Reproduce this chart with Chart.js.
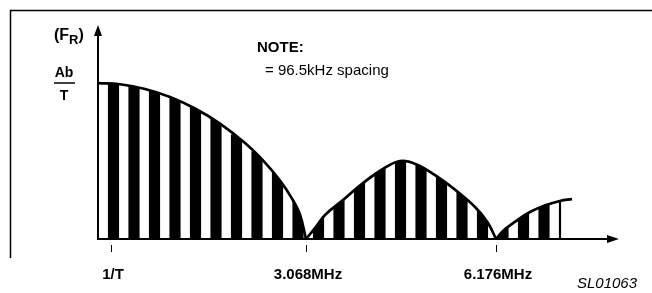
<!DOCTYPE html>
<html lang="en">
<head>
<meta charset="utf-8">
<title>Spectre FR</title>
<script src="https://cdn.jsdelivr.net/npm/chart.js@4.4.1/dist/chart.umd.min.js"></script>
<style>
    html, body { margin: 0; padding: 0; background: #fff; }
    .wrap { position: relative; width: 652px; height: 293px; }
</style>
</head>
<body>
<div class="wrap"><canvas id="spectre"></canvas></div>
<script>
    // axe horizontal en unites arbitraires (0 = axe vertical)
    const tickValues = [13, 208, 398];
    const tickLabels = ['1/T', '3.068MHz', '6.176MHz'];

    // enveloppe, un tableau par lobe : [x, niveau] (100 = Ab/T)
    const lobe1 = [[0, 100], [22, 99.2], [47, 96.2], [72, 91.1], [97, 83.7], [122, 74], [147, 61.5], [167, 49], [182, 37.5], [194, 25.9], [202, 15.6], [208, 0]];
    const lobe2 = [[208, 0], [217, 7], [227, 15.4], [245, 25], [265, 35.9], [285, 44.9], [302, 50], [318, 48], [340, 39.7], [360, 30.1], [378, 19.9], [390, 10.3], [398, 0]];
    const lobe3 = [[398, 0], [406, 5.8], [418, 11.5], [432, 17.3], [448, 21.8], [462, 24.4], [474, 25.6]];

    // raies espacees de 96.5kHz
    const lineX = [15.5, 36, 56.5, 77, 97.5, 118, 138.5, 159, 179.5, 200, 220.5, 241, 261.5, 282, 302.5, 323, 343.5, 364, 384.5, 405, 425.5, 446];
    const lineLevel = [101, 99, 96, 92, 86, 79, 67, 56, 44, 25, 16, 27, 38, 47, 51, 50, 42, 32, 21, 9, 17, 24];
    const edgeX = [462];
    const edgeLevel = [25];

    const FONT = '"Liberation Sans", Arial, Helvetica, sans-serif';

    function pts(lobe) {
        return lobe.map(p => ({x: p[0], y: p[1]}));
    }

    // les raies sont coupees par l'enveloppe
    const clipRaies = {
        id: 'clipRaies',
        beforeDatasetDraw(chart, args) {
            const ds = chart.data.datasets[args.index];
            if (!ds.raie) return;
            const ctx = chart.ctx;
            const base = chart.scales.y.getPixelForValue(0) + 1;
            ctx.save();
            ctx.beginPath();
            chart.data.datasets.forEach((d, i) => {
                if (!d.enveloppe) return;
                const line = chart.getDatasetMeta(i).dataset;
                const p = line.points;
                line.updateControlPoints(chart.chartArea, 'x');
                line.path(ctx);
                ctx.lineTo(p[p.length - 1].x, base);
                ctx.lineTo(p[0].x, base);
                ctx.closePath();
            });
            ctx.clip();
        },
        afterDatasetDraw(chart, args) {
            const ds = chart.data.datasets[args.index];
            if (ds.raie) chart.ctx.restore();
        }
    };

    const decor = {
        id: 'decor',
        afterDraw(chart) {
            const ctx = chart.ctx;
            const a = chart.chartArea;
            ctx.save();
            ctx.strokeStyle = '#000';
            ctx.fillStyle = '#000';

            // cadre
            ctx.lineWidth = 1.5;
            ctx.beginPath();
            ctx.moveTo(10.5, 258);
            ctx.lineTo(10.5, 10.5);
            ctx.lineTo(652, 10.5);
            ctx.stroke();

            // fleches
            ctx.beginPath();
            ctx.moveTo(a.left, a.top - 5);
            ctx.lineTo(a.left - 4, a.top + 6);
            ctx.lineTo(a.left + 4, a.top + 6);
            ctx.closePath();
            ctx.fill();
            ctx.beginPath();
            ctx.moveTo(a.right + 5, a.bottom);
            ctx.lineTo(a.right - 7, a.bottom - 4);
            ctx.lineTo(a.right - 7, a.bottom + 4);
            ctx.closePath();
            ctx.fill();

            // (FR)
            ctx.textBaseline = 'alphabetic';
            ctx.textAlign = 'left';
            ctx.font = 'bold 16px ' + FONT;
            let x = 54;
            ctx.fillText('(F', x, 40);
            x += ctx.measureText('(F').width;
            ctx.font = 'bold 13px ' + FONT;
            ctx.fillText('R', x, 44);
            x += ctx.measureText('R').width;
            ctx.font = 'bold 16px ' + FONT;
            ctx.fillText(')', x, 40);

            // Ab / T
            ctx.textAlign = 'center';
            ctx.font = 'bold 14px ' + FONT;
            ctx.fillText('Ab', 64, 77);
            ctx.fillText('T', 64, 100);
            ctx.lineWidth = 1.5;
            ctx.beginPath();
            ctx.moveTo(54, 83);
            ctx.lineTo(75, 83);
            ctx.stroke();

            // note
            ctx.textAlign = 'left';
            ctx.font = 'bold 15px ' + FONT;
            ctx.fillText('NOTE:', 257, 52);
            ctx.font = '15px ' + FONT;
            ctx.fillText('= 96.5kHz spacing', 265, 75);

            ctx.font = 'italic 15px ' + FONT;
            ctx.fillText('SL01063', 577, 288);
            ctx.restore();
        }
    };

    const courbe = {type: 'line', enveloppe: true, order: 1, borderColor: '#000', borderWidth: 2.7, pointRadius: 0, fill: false, tension: 0.4};

    new Chart(document.getElementById('spectre'), {
        type: 'line',
        data: {
            datasets: [
                Object.assign({data: pts(lobe1)}, courbe),
                Object.assign({data: pts(lobe2)}, courbe),
                Object.assign({data: pts(lobe3)}, courbe),
                {type: 'bar', data: lineX.map((v, i) => ({x: v, y: lineLevel[i]})), raie: true, order: 2, grouped: false, backgroundColor: '#000', borderWidth: 0, barThickness: 10.5},
                {type: 'bar', data: edgeX.map((v, i) => ({x: v, y: edgeLevel[i]})), raie: true, order: 2, grouped: false, backgroundColor: '#000', borderWidth: 0, barThickness: 1.5}
            ]
        },
        options: {
            responsive: true,
            maintainAspectRatio: false,
            animation: false,
            layout: {padding: {left: 98, top: 30, right: 38, bottom: 0}},
            plugins: {legend: {display: false}, tooltip: {enabled: false}},
            scales: {
                x: {
                    type: 'linear',
                    min: 0,
                    max: 516,
                    offset: false,
                    afterFit: s => { s.height = 54; },
                    afterBuildTicks: s => { s.ticks = tickValues.map(v => ({value: v})); },
                    grid: {display: true, offset: false, drawOnChartArea: false, drawTicks: true, tickLength: 13, tickColor: '#000', tickWidth: 1, tickBorderDash: [7, 5], tickBorderDashOffset: 7},
                    border: {display: true, color: '#000', width: 2, z: 1},
                    ticks: {autoSkip: false, maxRotation: 0, padding: 14, labelOffset: 2, color: '#000', font: {family: FONT, size: 15, weight: 'bold'}, callback: (v, i) => tickLabels[i]}
                },
                y: {
                    type: 'linear',
                    min: 0,
                    max: 134,
                    afterFit: s => { s.width = 0; },
                    grid: {display: false},
                    border: {display: true, color: '#000', width: 2, z: 1},
                    ticks: {display: false}
                }
            }
        },
        plugins: [clipRaies, decor]
    });
</script>
</body>
</html>
